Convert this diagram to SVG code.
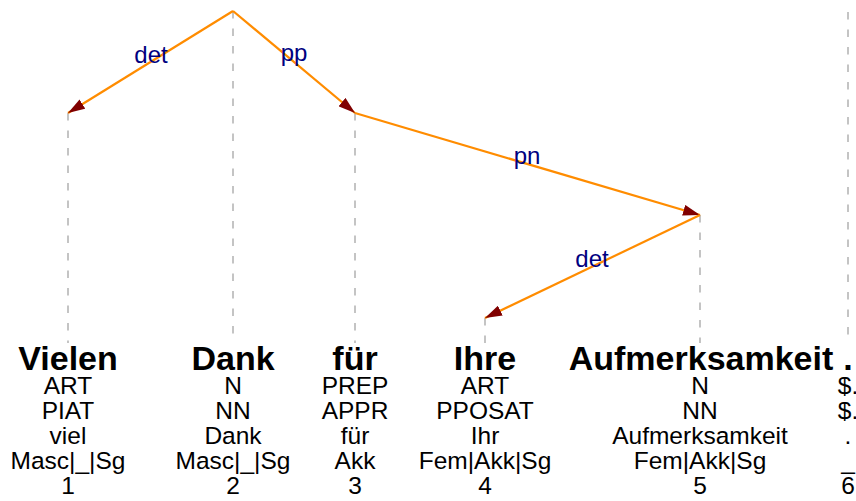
<svg xmlns="http://www.w3.org/2000/svg" width="856" height="501" viewBox="0 0 856 501">
  <style>
    .guide { stroke: #c4c4c4; stroke-width: 2; stroke-dasharray: 7.5 10; fill: none; }
    .edge { stroke: #ff8c00; stroke-width: 2.2; fill: none; marker-end: url(#head); }
    .lbl { font-family: "Liberation Sans", Arial, sans-serif; font-size: 24px; fill: #000080; text-anchor: middle; }
    .word { font-family: "Liberation Sans", Arial, sans-serif; font-size: 34px; font-weight: bold; fill: #000; text-anchor: middle; }
    .attr { font-family: "Liberation Sans", Arial, sans-serif; font-size: 24.5px; fill: #000; text-anchor: middle; }
  </style>
  <defs>
    <marker id="head" markerWidth="17" markerHeight="11" refX="17" refY="5.5" orient="auto" markerUnits="userSpaceOnUse" viewBox="0 0 17 11">
      <path d="M0,0 L17,5.5 L0,11 Z" fill="#800000"/>
    </marker>
  </defs>
  <rect width="856" height="501" fill="#fff"/>

  <!-- token columns: dashed guide from head position down to the word, then annotations -->
  <g id="tok1">
    <line class="guide" x1="68" y1="113" x2="68" y2="343"/>
    <text class="word" x="68" y="370">Vielen</text>
    <text class="attr" x="68" y="394">ART</text>
    <text class="attr" x="68" y="419">PIAT</text>
    <text class="attr" x="68" y="444">viel</text>
    <text class="attr" x="68" y="469">Masc|_|Sg</text>
    <text class="attr" x="68" y="494">1</text>
  </g>
  <g id="tok2">
    <line class="guide" x1="233" y1="11" x2="233" y2="343"/>
    <text class="word" x="233" y="370">Dank</text>
    <text class="attr" x="233" y="394">N</text>
    <text class="attr" x="233" y="419">NN</text>
    <text class="attr" x="233" y="444">Dank</text>
    <text class="attr" x="233" y="469">Masc|_|Sg</text>
    <text class="attr" x="233" y="494">2</text>
  </g>
  <g id="tok3">
    <line class="guide" x1="355" y1="113" x2="355" y2="343"/>
    <text class="word" x="355" y="370">für</text>
    <text class="attr" x="355" y="394">PREP</text>
    <text class="attr" x="355" y="419">APPR</text>
    <text class="attr" x="355" y="444">für</text>
    <text class="attr" x="355" y="469">Akk</text>
    <text class="attr" x="355" y="494">3</text>
  </g>
  <g id="tok4">
    <line class="guide" x1="485" y1="318" x2="485" y2="343"/>
    <text class="word" x="485" y="370">Ihre</text>
    <text class="attr" x="485" y="394">ART</text>
    <text class="attr" x="485" y="419">PPOSAT</text>
    <text class="attr" x="485" y="444">Ihr</text>
    <text class="attr" x="485" y="469">Fem|Akk|Sg</text>
    <text class="attr" x="485" y="494">4</text>
  </g>
  <g id="tok5">
    <line class="guide" x1="700" y1="215" x2="700" y2="343"/>
    <text class="word" x="701" y="370">Aufmerksamkeit</text>
    <text class="attr" x="700" y="394">N</text>
    <text class="attr" x="700" y="419">NN</text>
    <text class="attr" x="700" y="444">Aufmerksamkeit</text>
    <text class="attr" x="700" y="469">Fem|Akk|Sg</text>
    <text class="attr" x="700" y="494">5</text>
  </g>
  <g id="tok6">
    <line class="guide" x1="848" y1="12" x2="848" y2="343"/>
    <text class="word" x="848" y="370">.</text>
    <text class="attr" x="848" y="394">$.</text>
    <text class="attr" x="848" y="419">$.</text>
    <text class="attr" x="848" y="444">.</text>
    <text class="attr" x="848" y="469">_</text>
    <text class="attr" x="848" y="494">6</text>
  </g>

  <!-- dependency arcs -->
  <g id="edges">
    <line class="edge" x1="233" y1="11" x2="68" y2="113"/>
    <line class="edge" x1="233" y1="11" x2="355" y2="113"/>
    <line class="edge" x1="355" y1="113" x2="700" y2="215"/>
    <line class="edge" x1="700" y1="215" x2="485" y2="318"/>
    <text class="lbl" x="151" y="63">det</text>
    <text class="lbl" x="294" y="61">pp</text>
    <text class="lbl" x="527" y="164">pn</text>
    <text class="lbl" x="592" y="267">det</text>
  </g>
</svg>
